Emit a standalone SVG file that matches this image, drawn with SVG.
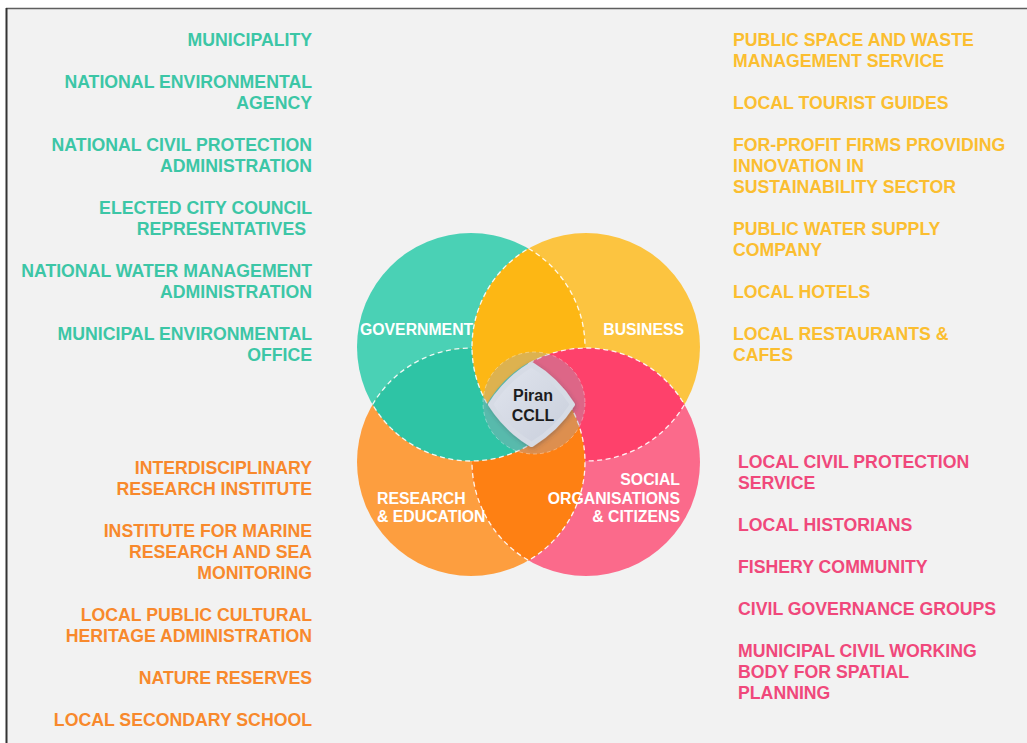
<svg xmlns="http://www.w3.org/2000/svg" width="1027" height="743" viewBox="0 0 1027 743">
  <style>
    text { font-family: "Liberation Sans", Arial, sans-serif; font-weight: bold; }
    .side { font-size: 17.7px; }
    .gov-t { fill: #3cc6a6; text-anchor: end; }
    .res-t { fill: #f8892c; text-anchor: end; }
    .bus-t { fill: #fbbe30; }
    .soc-t { fill: #f0487b; }
    .lbl { font-size: 15.8px; fill: #ffffff; }
    .core-t { font-size: 16px; fill: #1c1c1c; text-anchor: middle; }
    .lens { stroke: #ffffff; stroke-width: 1.3; stroke-dasharray: 5 3.5; stroke-opacity: 0.9; }
  </style>
  <defs>
    <!-- keeps the Government/Business lens out of the Social circle so the overlaps form a pinwheel -->
    <mask id="outsideSocial" maskUnits="userSpaceOnUse" x="0" y="0" width="1027" height="743">
      <rect x="0" y="0" width="1027" height="743" fill="#ffffff"/>
      <circle cx="586" cy="462" r="114.8" fill="#000000"/>
    </mask>
    <linearGradient id="coreFill" x1="0" y1="0" x2="1" y2="1">
      <stop offset="0" stop-color="#e1e5ee"/>
      <stop offset="1" stop-color="#c8cedb"/>
    </linearGradient>
    <filter id="coreShadow" x="-30%" y="-30%" width="160%" height="160%">
      <feDropShadow dx="1" dy="1.5" stdDeviation="2" flood-color="#3a3a4a" flood-opacity="0.35"/>
    </filter>
  </defs>

  <!-- page -->
  <rect x="0" y="0" width="1027" height="743" fill="#ffffff"/>
  <rect x="7" y="9" width="1020" height="734" fill="#f2f2f2"/>
  <line x1="6" y1="8.5" x2="1027" y2="8.5" stroke="#5e5e5e" stroke-width="1.5"/>
  <line x1="6.5" y1="8" x2="6.5" y2="743" stroke="#333333" stroke-width="2"/>

  <!-- four sector circles -->
  <g id="government"><circle cx="471" cy="347" r="114" fill="#4ad1b5"/></g>
  <g id="business"><circle cx="586" cy="347" r="114" fill="#fcc440"/></g>
  <g id="research"><circle cx="471" cy="462" r="114" fill="#fd9e3f"/></g>
  <g id="social"><circle cx="586" cy="462" r="114" fill="#fb6a8b"/></g>

  <!-- pairwise overlaps -->
  <g id="overlaps">
    <path id="lens-business-social" class="lens" fill="#fe416b" d="M487.56 404.5 A114 114 0 0 1 684.44 404.5 A114 114 0 0 1 487.56 404.5 Z"/>
    <path id="lens-research-social" class="lens" fill="#fe8013" d="M528.5 363.56 A114 114 0 0 1 528.5 560.44 A114 114 0 0 1 528.5 363.56 Z"/>
    <path id="lens-government-research" class="lens" fill="#2ec4a5" d="M372.56 404.5 A114 114 0 0 1 569.44 404.5 A114 114 0 0 1 372.56 404.5 Z"/>
    <path id="lens-government-business" class="lens" fill="#fdb714" mask="url(#outsideSocial)" d="M528.5 248.56 A114 114 0 0 1 528.5 445.44 A114 114 0 0 1 528.5 248.56 Z"/>
  </g>

  <!-- centre: Piran CCLL -->
  <g id="core">
    <circle cx="534" cy="403" r="51" fill="#a4a8ba" fill-opacity="0.36" stroke="#ffffff" stroke-opacity="0.35" stroke-width="1" stroke-dasharray="4 3"/>
    <path fill="url(#coreFill)" stroke="#d6dbe5" stroke-width="5" stroke-linejoin="round" filter="url(#coreShadow)"
          d="M490.5 404.5 A125 125 0 0 1 531.5 364.5 A125 125 0 0 1 572.5 404.5 A125 125 0 0 1 531.5 444.5 A125 125 0 0 1 490.5 404.5 Z"/>
    <text class="core-t" x="533" y="400.5">Piran</text>
    <text class="core-t" x="533" y="420.5">CCLL</text>
  </g>

  <!-- sector labels -->
  <g id="sector-labels">
    <text class="lbl" x="360" y="335">GOVERNMENT</text>
    <text class="lbl" x="684" y="335" text-anchor="end">BUSINESS</text>
    <text class="lbl" x="377" y="503.5">RESEARCH</text>
    <text class="lbl" x="377" y="522">&amp; EDUCATION</text>
    <text class="lbl" x="680" y="485" text-anchor="end">SOCIAL</text>
    <text class="lbl" x="680" y="503.5" text-anchor="end">ORGANISATIONS</text>
    <text class="lbl" x="680" y="522" text-anchor="end">&amp; CITIZENS</text>
  </g>

  <!-- government stakeholders -->
  <g id="government-list" class="side gov-t">
    <text x="312" y="45.5">MUNICIPALITY</text>
    <text x="312" y="87.5">NATIONAL ENVIRONMENTAL</text>
    <text x="312" y="108.5">AGENCY</text>
    <text x="312" y="150.5">NATIONAL CIVIL PROTECTION</text>
    <text x="312" y="171.5">ADMINISTRATION</text>
    <text x="312" y="213.5">ELECTED CITY COUNCIL</text>
    <text x="306" y="234.5">REPRESENTATIVES</text>
    <text x="312" y="276.5">NATIONAL WATER MANAGEMENT</text>
    <text x="312" y="297.5">ADMINISTRATION</text>
    <text x="312" y="339.5">MUNICIPAL ENVIRONMENTAL</text>
    <text x="312" y="360.5">OFFICE</text>
  </g>

  <!-- business stakeholders -->
  <g id="business-list" class="side bus-t">
    <text x="733" y="45.5">PUBLIC SPACE AND WASTE</text>
    <text x="733" y="66.5">MANAGEMENT SERVICE</text>
    <text x="733" y="108.5">LOCAL TOURIST GUIDES</text>
    <text x="733" y="150.5">FOR-PROFIT FIRMS PROVIDING</text>
    <text x="733" y="171.5">INNOVATION IN</text>
    <text x="733" y="192.5">SUSTAINABILITY SECTOR</text>
    <text x="733" y="234.5">PUBLIC WATER SUPPLY</text>
    <text x="733" y="255.5">COMPANY</text>
    <text x="733" y="297.5">LOCAL HOTELS</text>
    <text x="733" y="339.5">LOCAL RESTAURANTS &amp;</text>
    <text x="733" y="360.5">CAFES</text>
  </g>

  <!-- research and education stakeholders -->
  <g id="research-list" class="side res-t">
    <text x="312" y="474">INTERDISCIPLINARY</text>
    <text x="312" y="495">RESEARCH INSTITUTE</text>
    <text x="312" y="537">INSTITUTE FOR MARINE</text>
    <text x="312" y="558">RESEARCH AND SEA</text>
    <text x="312" y="579">MONITORING</text>
    <text x="312" y="621">LOCAL PUBLIC CULTURAL</text>
    <text x="312" y="642">HERITAGE ADMINISTRATION</text>
    <text x="312" y="684">NATURE RESERVES</text>
    <text x="312" y="726">LOCAL SECONDARY SCHOOL</text>
  </g>

  <!-- social organisations and citizens -->
  <g id="social-list" class="side soc-t">
    <text x="738" y="468">LOCAL CIVIL PROTECTION</text>
    <text x="738" y="489">SERVICE</text>
    <text x="738" y="531">LOCAL HISTORIANS</text>
    <text x="738" y="573">FISHERY COMMUNITY</text>
    <text x="738" y="615">CIVIL GOVERNANCE GROUPS</text>
    <text x="738" y="657">MUNICIPAL CIVIL WORKING</text>
    <text x="738" y="678">BODY FOR SPATIAL</text>
    <text x="738" y="699">PLANNING</text>
  </g>
</svg>
